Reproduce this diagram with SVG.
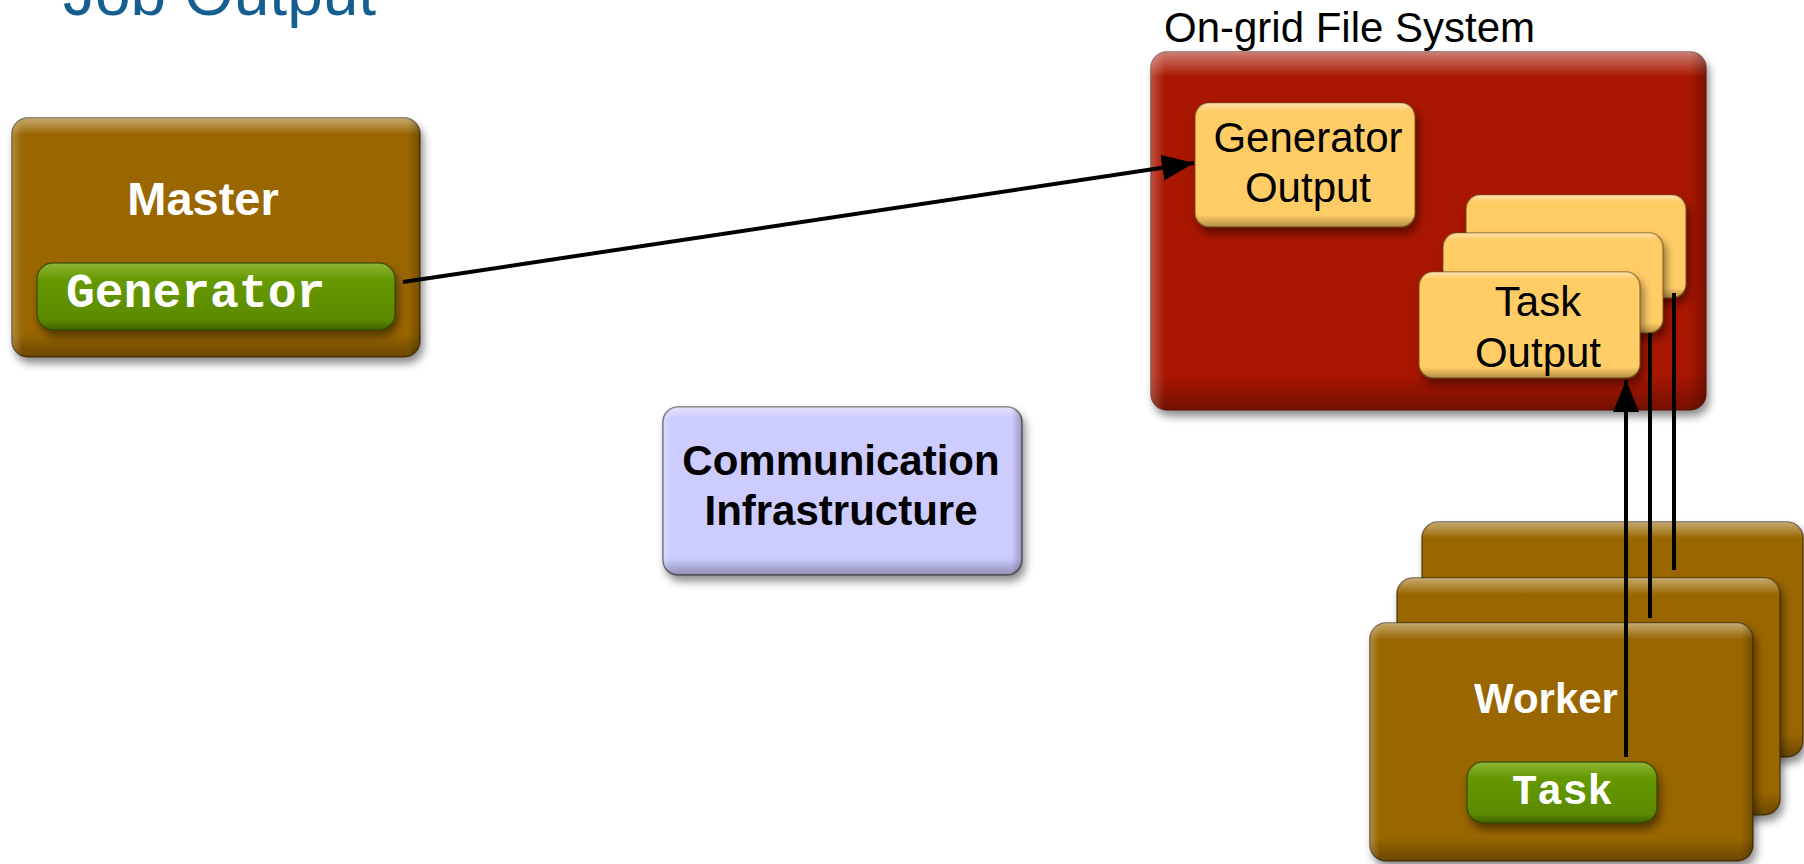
<svg xmlns="http://www.w3.org/2000/svg" width="1804" height="864" viewBox="0 0 1804 864">
  <defs>
    <filter id="shadow" x="-10%" y="-10%" width="125%" height="130%">
      <feGaussianBlur in="SourceAlpha" stdDeviation="4"/>
      <feOffset dx="3" dy="6" result="b"/>
      <feComponentTransfer><feFuncA type="linear" slope="0.45"/></feComponentTransfer>
      <feMerge><feMergeNode/><feMergeNode in="SourceGraphic"/></feMerge>
    </filter>
    <linearGradient id="bevelV" x1="0" y1="0" x2="0" y2="1">
      <stop offset="0" stop-color="#fff" stop-opacity="0.45"/>
      <stop offset="0.07" stop-color="#fff" stop-opacity="0"/>
      <stop offset="0.9" stop-color="#000" stop-opacity="0"/>
      <stop offset="1" stop-color="#000" stop-opacity="0.3"/>
    </linearGradient>
    <linearGradient id="bevelH" x1="0" y1="0" x2="1" y2="0">
      <stop offset="0" stop-color="#fff" stop-opacity="0.25"/>
      <stop offset="0.025" stop-color="#fff" stop-opacity="0"/>
      <stop offset="0.97" stop-color="#000" stop-opacity="0"/>
      <stop offset="1" stop-color="#000" stop-opacity="0.25"/>
    </linearGradient>
    <linearGradient id="btnGrad" x1="0" y1="0" x2="0" y2="1">
      <stop offset="0" stop-color="#8fb63a"/>
      <stop offset="0.25" stop-color="#669900"/>
      <stop offset="0.85" stop-color="#5c8a00"/>
      <stop offset="1" stop-color="#3f6000"/>
    </linearGradient>
    <marker id="arrow" markerUnits="userSpaceOnUse" markerWidth="34" markerHeight="28" refX="32" refY="13" orient="auto">
      <path d="M0,0 L32,13 L0,26 z" fill="#000"/>
    </marker>
    <style>
      .box { stroke: #3a2800; stroke-opacity: 0.7; stroke-width: 1.5; }
      .brown { fill: #996600; }
      .red { fill: #a81800; stroke: #5a0c00; stroke-opacity: 0.6; stroke-width: 1.5; }
      .yellow { fill: #ffcc66; stroke: #6b4a10; stroke-opacity: 0.6; stroke-width: 1.5; }
      .lav { fill: #ccccff; stroke: #333; stroke-opacity: 0.7; stroke-width: 1.5; }
      .btn { fill: url(#btnGrad); stroke: #2c3f00; stroke-opacity: 0.7; stroke-width: 1.5; }
      .bv { fill: url(#bevelV); }
      .bh { fill: url(#bevelH); }
      .lbl { font-family: "Liberation Sans", Arial, sans-serif; }
      .wb { font-family: "Liberation Sans", Arial, sans-serif; font-weight: bold; fill: #fff; text-anchor: middle; }
      .mono { font-family: "Liberation Mono", "Courier New", monospace; font-weight: bold; fill: #fff; }
      .bk { font-family: "Liberation Sans", Arial, sans-serif; fill: #000; font-size: 42px; text-anchor: middle; }
      .conn { stroke: #000; stroke-width: 4; fill: none; }
    </style>
  </defs>
  <rect width="1804" height="864" fill="#fff"/>

  <text id="title" class="lbl" x="63" y="15" font-size="64" fill="#155f90">Job Output</text>

  <g id="master">
    <rect x="12" y="118" width="408" height="239" rx="16" class="box brown" filter="url(#shadow)"/>
    <rect x="12" y="118" width="408" height="239" rx="16" class="bv"/>
    <rect x="12" y="118" width="408" height="239" rx="16" class="bh"/>
    <text class="wb" x="203" y="215" font-size="47">Master</text>
    <g id="generator">
      <rect x="37" y="263" width="358" height="67" rx="16" class="btn" filter="url(#shadow)"/>
      <text class="mono" x="66" y="307" font-size="48">Generator</text>
    </g>
  </g>

  <g id="filesystem">
    <text class="lbl" x="1164" y="42" font-size="42" fill="#000">On-grid File System</text>
    <rect x="1151" y="52" width="555" height="358" rx="16" class="red" filter="url(#shadow)"/>
    <rect x="1151" y="52" width="555" height="358" rx="16" class="bv"/>
    <rect x="1151" y="52" width="555" height="358" rx="16" class="bh"/>
    <g id="generator-output">
      <rect x="1195" y="103" width="220" height="124" rx="14" class="yellow" filter="url(#shadow)"/>
      <rect x="1195" y="103" width="220" height="124" rx="14" class="bv"/>
      <text class="bk" x="1308" y="152">Generator</text>
      <text class="bk" x="1308" y="202">Output</text>
    </g>
    <g id="task-output">
      <rect x="1466" y="195" width="220" height="103" rx="14" class="yellow" filter="url(#shadow)"/>
      <rect x="1466" y="195" width="220" height="103" rx="14" class="bv"/>
      <rect x="1443" y="233" width="220" height="100" rx="14" class="yellow" filter="url(#shadow)"/>
      <rect x="1443" y="233" width="220" height="100" rx="14" class="bv"/>
      <rect x="1419" y="272" width="221" height="106" rx="14" class="yellow" filter="url(#shadow)"/>
      <rect x="1419" y="272" width="221" height="106" rx="14" class="bv"/>
      <text class="bk" x="1538" y="316">Task</text>
      <text class="bk" x="1538" y="367">Output</text>
    </g>
  </g>

  <g id="communication">
    <rect x="663" y="407" width="359" height="168" rx="15" class="lav" filter="url(#shadow)"/>
    <rect x="663" y="407" width="359" height="168" rx="15" class="bv"/>
    <rect x="663" y="407" width="359" height="168" rx="15" class="bh"/>
    <text class="bk" x="841" y="475" font-weight="bold">Communication</text>
    <text class="bk" x="841" y="525" font-weight="bold">Infrastructure</text>
  </g>

  <g id="workers">
    <rect x="1422" y="522" width="381" height="235" rx="16" class="box brown" filter="url(#shadow)"/>
    <rect x="1422" y="522" width="381" height="235" rx="16" class="bv"/>
    <rect x="1397" y="578" width="383" height="237" rx="16" class="box brown" filter="url(#shadow)"/>
    <rect x="1397" y="578" width="383" height="237" rx="16" class="bv"/>
    <rect x="1370" y="623" width="383" height="238" rx="16" class="box brown" filter="url(#shadow)"/>
    <rect x="1370" y="623" width="383" height="238" rx="16" class="bv"/>
    <rect x="1370" y="623" width="383" height="238" rx="16" class="bh"/>
    <text class="wb" x="1546" y="713" font-size="42">Worker</text>
    <g id="task">
      <rect x="1467" y="762" width="190" height="61" rx="16" class="btn" filter="url(#shadow)"/>
      <text class="mono" x="1512" y="804" font-size="42">Task</text>
    </g>
  </g>

  <g id="connectors">
    <line class="conn" x1="403" y1="282" x2="1194" y2="163" marker-end="url(#arrow)"/>
    <line class="conn" x1="1626" y1="757" x2="1626" y2="380" marker-end="url(#arrow)"/>
    <line class="conn" x1="1650" y1="618" x2="1650" y2="333"/>
    <line class="conn" x1="1674" y1="570" x2="1674" y2="293"/>
  </g>
</svg>
